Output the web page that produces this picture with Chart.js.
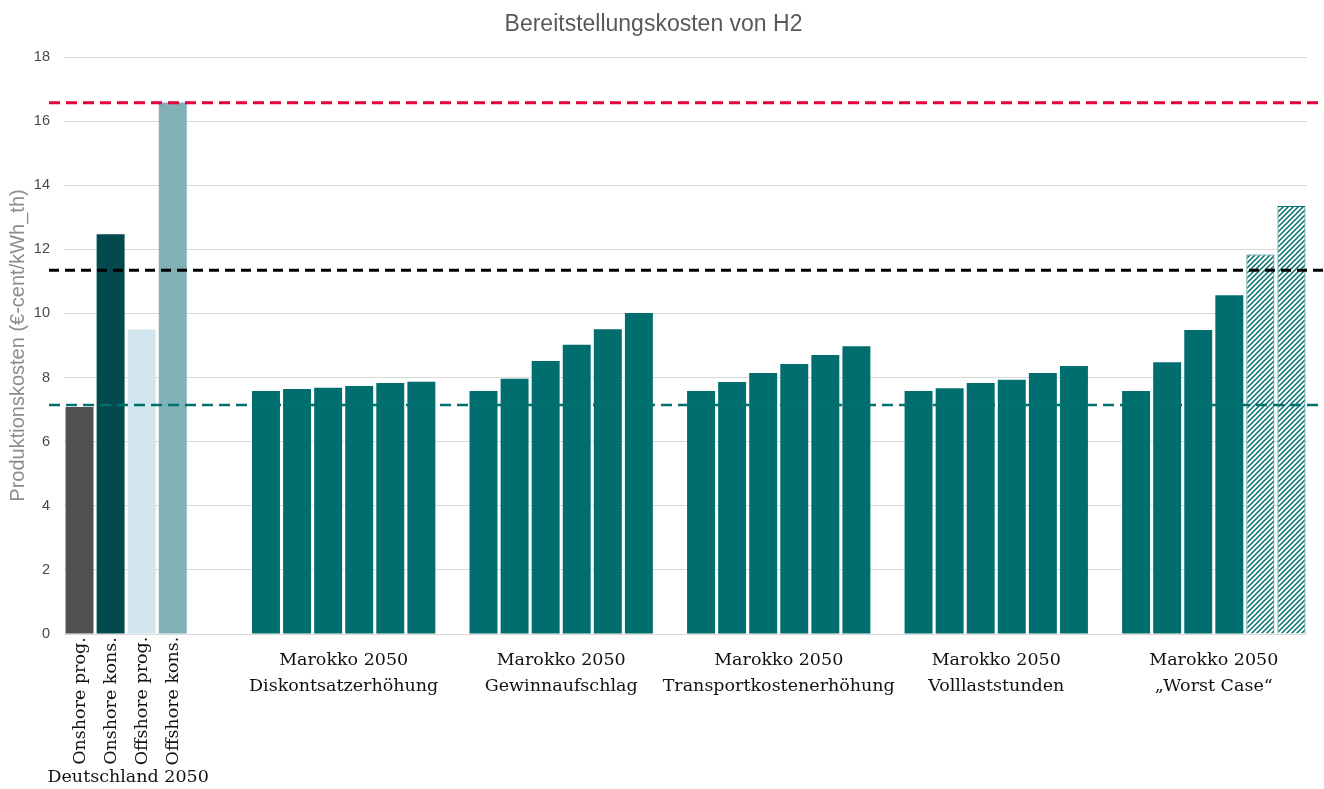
<!DOCTYPE html>
<html><head><meta charset="utf-8">
<script src="https://cdn.jsdelivr.net/npm/chart.js@4.4.0/dist/chart.umd.min.js"></script>
<style>html,body{margin:0;padding:0;background:#fff}canvas{display:block}</style>
</head><body>
<canvas id="c" width="1324" height="789"></canvas>
<script>
// ---- data ----
const germanyLabels = ['Onshore prog.', 'Onshore kons.', 'Offshore prog.', 'Offshore kons.'];
const germanyGroupLabel = 'Deutschland 2050';
const germanyValues = [7.08, 12.47, 9.50, 16.58];
const groupLabels = [
  ['Marokko 2050', 'Diskontsatzerhöhung'],
  ['Marokko 2050', 'Gewinnaufschlag'],
  ['Marokko 2050', 'Transportkostenerhöhung'],
  ['Marokko 2050', 'Volllaststunden'],
  ['Marokko 2050', '\u201EWorst Case\u201C']
];
const diskontsatz = [7.58, 7.64, 7.68, 7.74, 7.83, 7.87];
const gewinnaufschlag = [7.58, 7.96, 8.52, 9.02, 9.51, 10.01];
const transportkosten = [7.58, 7.86, 8.14, 8.42, 8.70, 8.98];
const volllaststunden = [7.58, 7.67, 7.83, 7.93, 8.14, 8.36];
const worstCase = [7.58, 8.48, 9.48, 10.57, 11.84, 13.35];
const worstCaseHatched = [false, false, false, false, true, true];
const refLineValues = [16.57, 11.35, 7.14];
const yTickValues = [0, 2, 4, 6, 8, 10, 12, 14, 16, 18];
const chartTitle = 'Bereitstellungskosten von H2';
const yAxisTitle = 'Produktionskosten (\u20AC-cent/kWh_th)';

// ---- styles ----
const germanyColors = ['#505050', '#034A4E', '#D0E5EE', '#82B0B7'];
const teal = '#006E6E';
const refLineStyles = [
  {color: '#E4003A', width: 3, dash: [11, 6]},
  {color: '#000000', width: 3, dash: [10, 6]},
  {color: '#00706F', width: 2.5, dash: [11, 6]}
];
const serif = '"DejaVu Serif", "Liberation Serif", serif';
const sans = '"Liberation Sans", Arial, sans-serif';

function makeHatch() {
  const s = 5, c = document.createElement('canvas');
  c.width = s; c.height = s;
  const x = c.getContext('2d');
  x.fillStyle = '#fff'; x.fillRect(0, 0, s, s);
  x.strokeStyle = teal; x.lineWidth = 1.5;
  x.beginPath();
  x.moveTo(0, s); x.lineTo(s, 0);
  x.moveTo(-s/2, s/2); x.lineTo(s/2, -s/2);
  x.moveTo(s/2, s*1.5); x.lineTo(s*1.5, s/2);
  x.stroke();
  return x.createPattern(c, 'repeat');
}
const hatch = makeHatch();

// ---- build slots ----
const labels = [], values = [], colors = [], borderW = [], borderC = [];
const germanyIdx = [];
const groupIdx = [];
function push(v, col, bw) { labels.push(String(labels.length)); values.push(v); colors.push(col); borderW.push(bw); borderC.push(teal); }
germanyValues.forEach((v, i) => { germanyIdx.push(labels.length); push(v, germanyColors[i], 0); });
push(null, '#fff', 0); push(null, '#fff', 0);
const groups = [diskontsatz, gewinnaufschlag, transportkosten, volllaststunden, worstCase];
groups.forEach((g, gi) => {
  const idx = [];
  g.forEach((v, i) => {
    const h = gi === 4 && worstCaseHatched[i];
    idx.push(labels.length);
    push(v, h ? hatch : teal, h ? 1 : 0);
  });
  groupIdx.push(idx);
  if (gi < groups.length - 1) push(null, '#fff', 0);
});

const overlay = {
  id: 'overlay',
  afterDatasetsDraw(chart) {
    const ctx = chart.ctx, y = chart.scales.y;
    ctx.save();
    refLineValues.forEach((v, i) => {
      const st = refLineStyles[i], py = y.getPixelForValue(v);
      ctx.strokeStyle = st.color; ctx.lineWidth = st.width; ctx.setLineDash(st.dash);
      ctx.beginPath(); ctx.moveTo(49, py); ctx.lineTo(1324, py); ctx.stroke();
    });
    ctx.restore();
  },
  afterDraw(chart) {
    const ctx = chart.ctx, x = chart.scales.x;
    ctx.save();
    ctx.fillStyle = '#111';
    ctx.font = '17.5px ' + serif;
    ctx.textBaseline = 'middle';
    germanyIdx.forEach((ix, i) => {
      const px = x.getPixelForValue(ix);
      ctx.save();
      ctx.translate(px + 1, 701);
      ctx.rotate(-Math.PI / 2);
      ctx.textAlign = 'center';
      ctx.fillText(germanyLabels[i], 0, 0);
      ctx.restore();
    });
    ctx.textAlign = 'center';
    const gx = (x.getPixelForValue(germanyIdx[0]) + x.getPixelForValue(germanyIdx[3])) / 2;
    ctx.fillText(germanyGroupLabel, gx + 2, 777);
    groupIdx.forEach((idx, gi) => {
      const cx = (x.getPixelForValue(idx[0]) + x.getPixelForValue(idx[idx.length - 1])) / 2;
      ctx.fillText(groupLabels[gi][0], cx, 660);
      ctx.fillText(groupLabels[gi][1], cx, 686);
    });
    ctx.restore();
  }
};

new Chart(document.getElementById('c'), {
  type: 'bar',
  data: {
    labels: labels,
    datasets: [{
      data: values,
      backgroundColor: colors,
      borderColor: borderC,
      borderWidth: borderW,
      barPercentage: 0.9,
      categoryPercentage: 1.0
    }]
  },
  options: {
    responsive: false,
    animation: false,
    devicePixelRatio: 1,
    layout: {padding: {left: 0, right: 17, top: 0, bottom: 0}},
    plugins: {
      legend: {display: false},
      tooltip: {enabled: false},
      title: {
        display: true, text: chartTitle, color: '#595959',
        font: {family: sans, size: 23, weight: 'normal'},
        padding: {top: 11, bottom: 18.4}
      }
    },
    scales: {
      x: {
        type: 'category',
        ticks: {display: false},
        grid: {display: false},
        border: {display: false},
        afterFit(s) { s.height = 155; }
      },
      y: {
        min: 0, max: 18,
        afterBuildTicks(s) { s.ticks = yTickValues.map(v => ({value: v})); },
        ticks: {color: '#4a4a4a', font: {family: sans, size: 14.5}, padding: 14},
        grid: {color: '#D9D9D9', lineWidth: 1, drawTicks: false},
        border: {display: false},
        title: {display: true, text: yAxisTitle, color: '#8C8C8C', font: {family: sans, size: 20}, padding: {top: 6, bottom: 0}},
        afterFit(s) { s.width = 64; }
      }
    }
  },
  plugins: [overlay]
});
</script>
</body></html>
